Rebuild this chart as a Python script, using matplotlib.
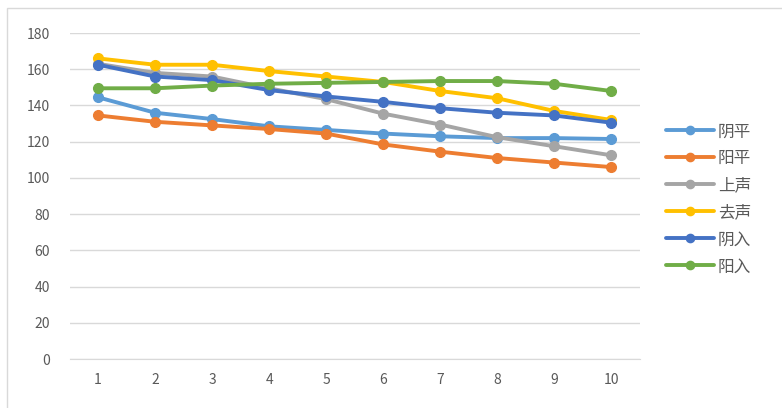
import matplotlib
matplotlib.use("Agg")
import matplotlib.pyplot as plt
from matplotlib.patches import Rectangle

plt.rcParams["font.family"] = ["Noto Sans CJK SC", "DejaVu Sans"]

# ---- data ----
x_labels = ["1", "2", "3", "4", "5", "6", "7", "8", "9", "10"]
yinping = [144.5, 136, 132.5, 128.5, 126.5, 124.5, 123, 122, 122, 121.5]
yangping = [134.5, 131, 129, 127, 124.5, 118.5, 114.5, 111, 108.5, 106]
shangsheng = [163, 158, 156, 149.5, 143.5, 135.5, 129.5, 122.5, 117.5, 112.5]
qusheng = [166, 162.5, 162.5, 159, 156, 153, 148, 144, 137, 132]
yinru = [162.5, 156, 154, 148.5, 145, 142, 138.5, 136, 134.5, 130.5]
yangru = [149.5, 149.5, 151, 152, 152.5, 153, 153.5, 153.5, 152, 148]

series = [
    ("阴平", yinping, "#5B9BD5"),
    ("阳平", yangping, "#ED7D31"),
    ("上声", shangsheng, "#A5A5A5"),
    ("去声", qusheng, "#FFC000"),
    ("阴入", yinru, "#4472C4"),
    ("阳入", yangru, "#70AD47"),
]

fig = plt.figure(figsize=(7.82, 4.08), dpi=100)
ax = fig.add_axes([0.089, 0.12, 0.729, 0.799])

xs = list(range(1, len(x_labels) + 1))
for name, vals, col in series:
    ax.plot(xs, vals, color=col, linewidth=2.8, marker="o", markersize=7,
            label=name, solid_capstyle="round")

ax.set_xlim(0.5, 10.5)
ax.set_ylim(0, 180)
ax.set_yticks(range(0, 181, 20))
ax.set_xticks(xs)
ax.set_xticklabels(x_labels)
ax.grid(axis="y", color="#D9D9D9", linewidth=1)
ax.set_axisbelow(True)
for s in ["top", "right", "left"]:
    ax.spines[s].set_visible(False)
ax.spines["bottom"].set_color("#D9D9D9")
ax.tick_params(axis="both", length=0, labelsize=10, colors="#595959", pad=10)
ax.tick_params(axis="y", pad=14)

leg = ax.legend(loc="center left", bbox_to_anchor=(1.02, 0.49), frameon=False,
                fontsize=12, handlelength=2.9, labelspacing=0.6,
                handletextpad=0.2, markerscale=0.85, labelcolor="#595959")

# chart frame
fig.patches.append(Rectangle((0.009, -0.1), 1.2, 1.08,
                             transform=fig.transFigure, fill=False,
                             edgecolor="#D9D9D9", linewidth=1))

fig.savefig("out.png", dpi=100)
